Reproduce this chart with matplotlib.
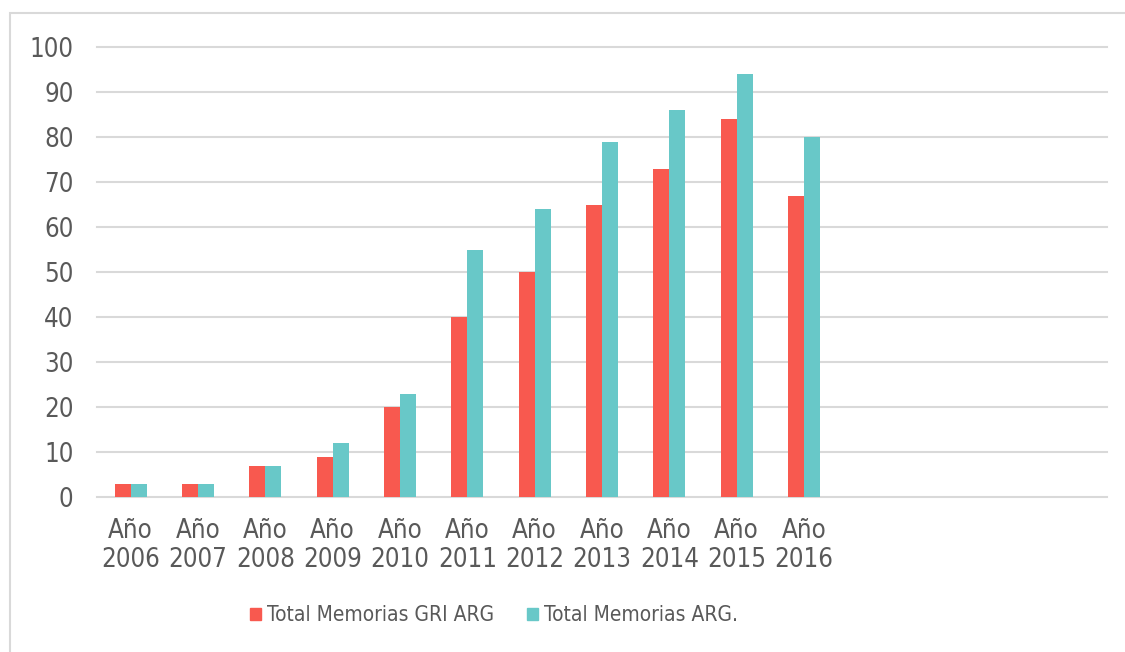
import matplotlib
matplotlib.use('Agg')
from matplotlib import pyplot as plt
from matplotlib.patches import Patch, Rectangle
import numpy as np

# data
years = ["Año\n2006", "Año\n2007", "Año\n2008", "Año\n2009", "Año\n2010", "Año\n2011",
         "Año\n2012", "Año\n2013", "Año\n2014", "Año\n2015", "Año\n2016"]
n_slots = 15  # the axis keeps room for 4 empty categories on the right
gri_arg = [3, 3, 7, 9, 20, 40, 50, 65, 73, 84, 67]
total_arg = [3, 3, 7, 12, 23, 55, 64, 79, 86, 94, 80]
series_names = ["Total Memorias GRI ARG", "Total Memorias ARG."]
yticks = [0, 10, 20, 30, 40, 50, 60, 70, 80, 90, 100]

red = "#F8594F"
teal = "#68C8C8"
txt = "#595959"
grid = "#D9D9D9"

plt.rcParams['font.family'] = ['DejaVu Sans']
plt.rcParams['font.stretch'] = 'condensed'

fig = plt.figure(figsize=(11.25, 6.52), dpi=100)
W, H = 1125, 652
ax = fig.add_axes([97 / W, 1 - 497 / H, 1010 / W, 450 / H])

x = np.arange(len(years))
w = 0.238
ax.bar(x - w / 2, gri_arg, w, color=red, zorder=3)
ax.bar(x + w / 2, total_arg, w, color=teal, zorder=3)

ax.set_xlim(-0.5, n_slots - 0.5)
ax.set_ylim(0, 100)
ax.set_yticks(yticks)
for v in yticks:
    ax.axhline(v, color=grid, lw=1.5, zorder=1, clip_on=False)

ax.set_xticks(x)
ax.set_xticklabels(years, linespacing=1.15)
ax.tick_params(axis='x', length=0, pad=15, labelsize=18.5, labelcolor=txt)
ax.tick_params(axis='y', length=0, pad=17, labelsize=18.5, labelcolor=txt)
for s in ax.spines.values():
    s.set_visible(False)

# outer chart border (only top and left visible in the crop)
fig.patches.append(Rectangle((10 / W, -0.1), 1.2, 1 - 13 / H + 0.1, transform=fig.transFigure,
                             fill=False, edgecolor=grid, lw=1.5))

handles = [Patch(color=red), Patch(color=teal)]
fig.legend(handles, series_names, loc='center', bbox_to_anchor=(494 / W, 1 - 615 / H), ncol=2,
           frameon=False, fontsize=15, labelcolor=txt, handlelength=0.5, handleheight=0.5,
           handletextpad=0.3, columnspacing=1.6)

fig.savefig("out.png", dpi=100)
